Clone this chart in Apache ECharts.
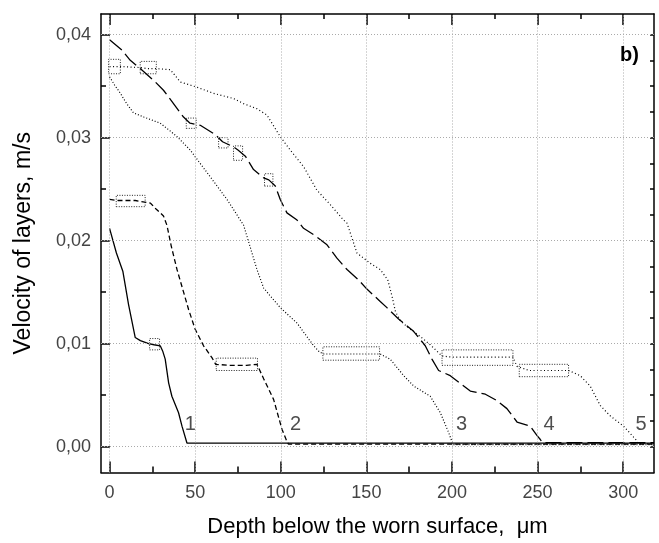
<!DOCTYPE html>
<html>
<head>
<meta charset="utf-8">
<script src="https://cdn.jsdelivr.net/npm/echarts@6/dist/echarts.min.js"></script>
<style>html,body{margin:0;padding:0;background:#fff}#c{width:659px;height:543px}</style>
</head>
<body>
<div id="c"></div>
<script>
// ---- data (depth in µm, velocity in m/s) ----
var curve1 = [[0,0.0212],[4,0.0188],[7.8,0.0170],[11.1,0.0138],[15,0.0106],[18,0.0103],[22.8,0.0100],[26,0.0099],[29.6,0.0098],[31,0.0093],[32.5,0.0085],[34.5,0.0062],[36.4,0.0049],[40.3,0.0033],[42.3,0.0020],[45.2,0.00036],[318,0.00036]];
var curve2 = [[0,0.0240],[5,0.0239],[15,0.0239],[23.8,0.02365],[27,0.0231],[31.5,0.0224],[33.5,0.0215],[36,0.0195],[39.4,0.0172],[46.2,0.0133],[50,0.0114],[54.9,0.0098],[59.8,0.00865],[62,0.0080],[70,0.0079],[80,0.0079],[86.1,0.0080],[90,0.0066],[95.8,0.0046],[100.7,0.0017],[103.6,0.0005],[104.5,0.00026],[318,0.00026]];
var curve3 = [[0,0.0359],[3,0.0351],[6.3,0.0343],[10,0.0333],[14,0.0324],[20,0.0320],[29.6,0.0314],[35,0.0307],[39.4,0.0301],[47.1,0.0288],[52,0.0277],[58.8,0.0262],[68.6,0.0240],[78.3,0.0215],[86.1,0.0172],[90,0.0154],[99.7,0.0135],[109.5,0.0120],[119.2,0.0098],[122,0.0093],[124.6,0.0090],[140,0.0090],[158,0.0090],[163.9,0.0085],[171.8,0.0069],[177.6,0.0059],[187.3,0.0049],[193.2,0.0033],[198,0.0014],[200,0.0005],[201,0.0002],[318,0.0002]];
var curve4 = [[0,0.0395],[7.2,0.0385],[12.1,0.0375],[17.9,0.0367],[26.7,0.0354],[31.5,0.0346],[43.2,0.0320],[47,0.0314],[53,0.0312],[61.7,0.0303],[66,0.0296],[72.4,0.0291],[75,0.0288],[79.3,0.0282],[84.1,0.0269],[90,0.0261],[93,0.0259],[96.8,0.0253],[99.7,0.0240],[103.6,0.0227],[109.5,0.0220],[113.3,0.0212],[120,0.0205],[127,0.0196],[132.8,0.0183],[138.7,0.0172],[145.4,0.0162],[150.3,0.0153],[158.1,0.0141],[162,0.0135],[168.8,0.0124],[177.6,0.0112],[184.4,0.0098],[188.3,0.0085],[192.2,0.0074],[199,0.0069],[210.7,0.0054],[219.5,0.0051],[226,0.0045],[232.1,0.0037],[238,0.0024],[245.7,0.0020],[249.6,0.0011],[251.6,0.0007],[253,0.0004],[318,0.0004]];
var curve5 = [[0,0.0369],[6.3,0.0369],[17.9,0.0368],[22,0.0367],[27.3,0.0367],[35.5,0.0366],[41.3,0.0354],[51,0.0349],[60.7,0.0343],[72.4,0.0338],[78.3,0.0333],[86.1,0.0328],[91.9,0.0322],[99.7,0.0301],[105.5,0.0288],[113.3,0.0272],[121.1,0.0249],[128.9,0.0235],[136.7,0.0220],[138.7,0.0217],[144.5,0.0188],[152.3,0.0178],[158.1,0.0172],[162.5,0.0162],[165,0.0146],[167,0.0131],[170,0.0122],[175.6,0.0114],[181.5,0.0107],[187.3,0.0099],[194.2,0.0088],[200,0.0087],[215,0.0087],[235.6,0.0087],[238,0.0078],[245,0.0074],[255,0.0074],[268.1,0.0074],[274.9,0.0069],[280.7,0.0059],[286.6,0.0040],[292.4,0.0030],[300.2,0.0020],[307.1,0.00075],[309,0.0003],[318,0.0003]];

// plateau boxes: [x1, y1, x2, y2]
var plateauBoxes = [
  [23.4,0.0094,29.2,0.0105],
  [3.9,0.0233,20.8,0.0244],
  [62.3,0.0074,86.4,0.0086],
  [124.6,0.0084,157.7,0.0097],
  [44.8,0.0309,50.6,0.0319],
  [63.7,0.0290,69.2,0.0300],
  [72.4,0.0278,77.7,0.0292],
  [90.5,0.0253,95.4,0.0265],
  [-0.6,0.0362,6.3,0.0376],
  [17.9,0.0362,27.3,0.0374],
  [194.2,0.0079,235.6,0.0094],
  [239.3,0.0068,268.1,0.0080]
];
var curveLabels = [[47.1,0.00215,'1'],[108.7,0.00215,'2'],[205.6,0.00215,'3'],[256.7,0.00215,'4'],[310.5,0.00215,'5']];

var xMajor = [0,50,100,150,200,250,300];
var xMinor = [25,75,125,175,225,275];
var yMajor = [0,0.01,0.02,0.03,0.04];
var yMinor = [0.005,0.015,0.025,0.035];
var yRightTicks = [0,0.0025,0.005,0.0075,0.01,0.0125,0.015,0.0175,0.02,0.0225,0.025,0.0275,0.03,0.0325,0.035,0.0375,0.04];
var xRange = [-5,318];
var yRange = [-0.0025,0.042];

var FONT = 'Liberation Sans, Arial, sans-serif';
function xAx(pos, ticks, len, showLine, labels) {
  return {
    type:'value', position:pos, min:xRange[0], max:xRange[1],
    axisLine:{show:showLine, onZero:false, lineStyle:{color:'#000', width:1.5}},
    axisTick:{show:true, inside:true, length:len, customValues:ticks, lineStyle:{color:'#000', width:1.5}},
    axisLabel:labels ? {show:true, customValues:ticks, margin:12, color:'#444', fontSize:18, fontFamily:FONT} : {show:false},
    splitLine:{show:false}
  };
}
function yAx(pos, ticks, len, showLine, labels) {
  return {
    type:'value', position:pos, min:yRange[0], max:yRange[1],
    axisLine:{show:showLine, onZero:false, lineStyle:{color:'#000', width:1.5}},
    axisTick:{show:true, inside:true, length:len, customValues:ticks, lineStyle:{color:'#000', width:1.5}},
    axisLabel:labels ? {show:true, customValues:ticks, margin:10, color:'#444', fontSize:18, fontFamily:FONT,
      formatter:function(v){return v.toFixed(2).replace('.', ',');}} : {show:false},
    splitLine:{show:false}
  };
}
var xAxes = [xAx('bottom', xMajor, 11, true, true), xAx('bottom', xMinor, 6, false, false), xAx('top', xMajor, 11, true, false), xAx('top', xMinor, 5, false, false)];
xAxes[0].name = 'Depth below the worn surface,  \u03bcm';
xAxes[0].nameLocation = 'middle';
xAxes[0].nameGap = 43;
xAxes[0].nameTextStyle = {fontSize:22, color:'#000', fontFamily:FONT};
var yAxes = [yAx('left', yMajor, 9, true, true), yAx('left', yMinor, 5, false, false), yAx('right', yRightTicks, 4, true, false)];
yAxes[0].name = 'Velocity of layers, m/s';
yAxes[0].nameLocation = 'middle';
yAxes[0].nameGap = 66;
yAxes[0].nameTextStyle = {fontSize:23, color:'#000', fontFamily:FONT};

var gridLines = [];
xMajor.forEach(function(v){ gridLines.push({xAxis:v}); });
yMajor.forEach(function(v){ gridLines.push({yAxis:v}); });

var boxAreas = plateauBoxes.map(function(b){ return [{coord:[b[0],b[1]]},{coord:[b[2],b[3]]}]; });

function lineSeries(name, data, type, width, extra) {
  var s = {name:name, type:'line', data:data, symbol:'none', showSymbol:false, z:3,
    lineStyle:{color:'#000', width:width, type:type}, silent:true};
  if (extra) for (var k in extra) s[k] = extra[k];
  return s;
}

var option = {
  animation:false,
  backgroundColor:'#fff',
  grid:{left:101, right:5, top:14, bottom:70.5, containLabel:false},
  title:{text:'b)', left:615, top:40, textStyle:{fontSize:20, fontWeight:'bold', color:'#000', fontFamily:FONT}},
  xAxis:xAxes,
  yAxis:yAxes,
  series:[
    {type:'line', data:[], silent:true, z:1,
     markLine:{silent:true, symbol:['none','none'], label:{show:false},
       lineStyle:{color:'#aaa', width:1, type:[1,2]}, data:gridLines}},
    lineSeries('1', curve1, 'solid', 1.3, {
      markArea:{silent:true, itemStyle:{color:'rgba(0,0,0,0)', borderColor:'#222', borderWidth:1, borderType:[1,1.5]}, data:boxAreas}
    }),
    lineSeries('2', curve2, [5,3], 1.3),
    lineSeries('3', curve3, [1,2], 1.2),
    lineSeries('4', curve4, [16,5], 1.3),
    lineSeries('5', curve5, [1,2.5], 1.2),
    {type:'scatter', data:curveLabels, symbolSize:1, itemStyle:{color:'rgba(0,0,0,0)'}, silent:true, z:5,
     label:{show:true, position:'inside', color:'#222', fontSize:20, fontFamily:FONT,
       formatter:function(p){return p.value[2];}}}
  ]
};
var chart = echarts.init(document.getElementById('c'), null, {renderer:'canvas'});
chart.setOption(option);
</script>
</body>
</html>
